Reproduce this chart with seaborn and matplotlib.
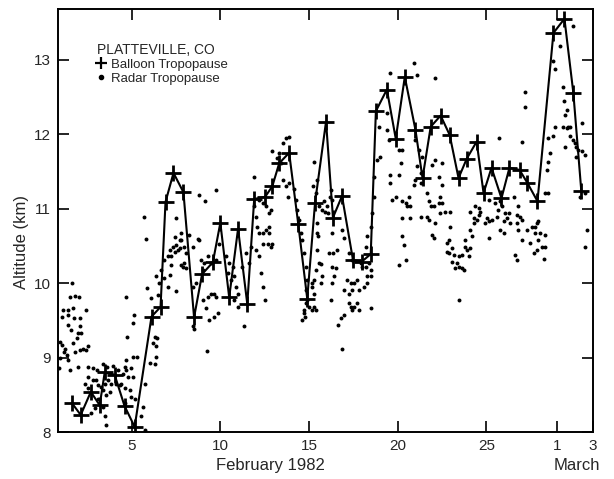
import matplotlib
matplotlib.use("Agg")
import matplotlib.pyplot as plt
from matplotlib.lines import Line2D
import seaborn as sns
import pandas as pd

# ---- data (day of Feb 1982; Mar 1 = 29, Mar 3 = 31) ----
balloon_day = [1.63, 2.13, 2.70, 3.20, 3.48, 4.04, 4.60, 5.17, 6.12, 6.63, 6.91, 7.36, 7.92,
               8.52, 8.97, 9.58, 10.00, 10.50, 11.00, 11.52, 11.91, 12.53, 12.93, 13.32, 13.88,
               14.39, 14.90, 15.34, 15.96, 16.35, 16.86, 17.48, 17.98, 18.48, 18.77, 19.39,
               19.89, 20.40, 21.00, 21.40, 21.86, 22.42, 22.93, 23.43, 23.89, 24.45, 24.84,
               25.29, 25.85, 26.30, 26.87, 27.30, 27.88, 28.78, 29.40, 29.90, 30.35]
balloon_alt = [8.39, 8.23, 8.54, 8.36, 8.80, 8.77, 8.35, 8.07, 9.55, 9.68, 11.09, 11.48, 11.22,
               9.54, 10.12, 10.28, 10.81, 9.81, 10.73, 9.72, 11.13, 11.16, 11.30, 11.61, 11.75,
               10.80, 9.79, 11.08, 12.17, 10.88, 11.17, 10.31, 10.29, 10.39, 12.31, 12.60,
               11.94, 12.77, 12.06, 11.41, 12.10, 12.25, 11.99, 11.41, 11.67, 11.90, 11.21,
               11.55, 11.14, 11.55, 11.52, 11.35, 11.10, 13.36, 13.55, 12.56, 11.24]

radar_day = [
    1.61, 1.51, 1.79, 2.02, 1.14, 1.39, 1.70, 2.40, 1.05, 1.39, 1.75, 2.08, 1.42, 1.57, 2.08,
    1.98, 2.17, 1.92, 0.95, 1.05, 1.23, 1.70, 2.26, 2.54, 2.41, 1.79, 2.08, 1.19, 1.33, 1.42,
    0.95, 0.90, 1.52, 1.98,
    2.54, 2.82, 3.07, 3.39, 3.63, 3.95, 4.23, 4.70, 5.07, 5.32, 4.61, 4.70, 4.94, 4.51, 4.79,
    5.07, 2.54, 2.82, 3.01, 2.36, 2.54, 3.11, 3.30, 3.48, 3.67, 3.86, 4.14, 4.42, 3.39, 3.58,
    3.76, 3.11, 3.39, 2.92, 4.33, 4.61, 4.89, 4.98, 5.17, 4.61, 3.48, 3.58, 5.64, 5.55, 5.73,
    2.73,
    5.13, 5.07, 4.70, 4.76, 5.69, 5.83, 5.88, 6.11, 6.29, 6.20, 6.39, 6.44, 6.01, 6.29, 6.39,
    5.73, 6.39, 6.57, 6.63, 6.48, 6.85, 7.04, 7.23, 7.42, 7.60, 7.14, 7.32, 7.51, 7.75, 7.42,
    7.70, 6.85, 7.04, 7.14, 7.51, 7.23, 7.79, 7.88, 7.51, 7.79, 8.82, 9.14, 9.76,
    7.79, 7.98, 8.07, 7.98, 8.07, 8.82, 8.92, 9.10, 9.01, 9.29, 9.48, 9.76, 8.45, 8.64, 9.01,
    9.29, 9.48, 9.67, 9.76, 9.19, 9.38, 9.67, 9.85, 8.45, 8.54, 9.23, 8.73, 8.26, 8.44,
    9.95, 10.32, 10.51, 10.69, 10.41, 10.60, 10.79, 10.88, 10.97, 10.79, 10.97, 11.35, 11.25,
    11.63, 11.45, 11.73, 11.91, 11.91, 12.00, 12.09, 12.19, 12.00, 12.19, 12.28, 12.38, 12.53,
    12.38, 12.57, 12.76, 12.38, 12.66, 12.85, 12.76, 12.94, 12.19, 12.38, 12.57, 12.76, 12.85,
    13.32, 13.51, 13.70, 13.88, 12.94, 13.22, 13.41, 13.51, 13.70, 13.88, 13.79, 14.16, 14.26,
    14.35, 14.44, 14.54, 14.63, 14.72, 14.81, 14.91, 14.81, 14.91, 14.72, 14.78, 14.63, 15.19,
    15.29, 15.38, 15.29, 15.38, 15.47, 15.57,
    15.23, 15.47, 15.57, 15.85, 15.72, 15.91, 15.47, 15.53, 15.47, 15.38, 15.29, 15.19, 15.68,
    15.75, 15.66, 15.29, 15.19, 14.81, 14.72, 15.00, 16.23, 16.17, 16.31, 16.03, 16.09, 16.31,
    16.13, 16.37, 16.60, 16.27, 16.50, 16.41, 16.31, 16.23, 16.88, 16.97, 17.25, 17.44,
    17.16, 17.35, 17.54, 17.72, 16.97, 17.25, 17.44, 17.82, 18.10, 18.28, 17.25, 17.35, 17.44,
    17.54, 17.72, 17.82, 16.97, 16.79, 16.65, 16.88, 17.91, 18.00, 18.19, 18.38, 18.47, 18.28,
    18.47, 18.47, 18.19, 18.28, 18.47, 18.56, 18.66, 18.66, 18.84, 19.03,
    18.94, 19.41, 19.41, 19.50, 19.59, 20.06, 19.59, 19.88, 19.69, 20.25, 20.44, 20.06, 20.25,
    20.16, 19.59, 20.91, 21.10, 22.12, 20.25, 20.44, 20.53, 20.72, 20.25, 20.72, 20.63, 21.00,
    21.19, 21.10, 21.29, 21.38, 21.00, 20.91, 21.29, 21.29, 21.66, 21.75, 22.12, 21.94, 22.03,
    21.66, 21.75, 21.85, 22.03, 22.31, 22.40, 22.12, 21.94, 22.31, 22.50, 22.69, 20.35, 22.78,
    22.78, 20.06,
    25.69, 26.99, 27.18, 27.15, 22.50, 22.50, 22.41, 22.97, 22.97, 22.88, 23.07, 23.16, 22.88,
    23.07, 23.35, 23.44, 23.63, 23.72, 23.25, 23.44, 23.63, 23.81, 23.91, 24.09, 24.00, 23.81,
    24.09, 24.18, 24.28, 24.46, 24.09, 23.44, 24.37, 24.56, 24.65, 24.56, 24.28, 25.12, 25.03,
    24.94, 25.12, 25.30, 25.58, 25.67, 25.48, 25.76, 25.86, 25.76, 25.12, 25.97, 26.06, 26.15,
    26.25, 25.97, 26.34, 26.53, 26.81, 26.72, 26.90, 26.72, 27.00, 26.81, 27.28, 27.56, 27.75,
    27.84, 27.93, 27.75, 28.03, 28.31, 27.93, 28.12, 27.84, 28.31, 27.66, 28.22, 27.47, 27.00,
    26.62, 26.72,
    28.31, 28.50, 28.40, 28.50, 28.59, 28.78, 28.87, 28.50, 28.78, 28.87, 29.15, 29.90, 29.34,
    29.40, 29.52, 29.43, 29.62, 29.34, 29.52, 29.71, 29.43, 29.71, 29.90, 29.99, 30.08, 30.18,
    30.37, 30.56, 30.08, 30.37, 30.56, 30.65, 30.56, 30.27]
radar_alt = [
    10.00, 9.82, 9.83, 9.82, 9.64, 9.64, 9.67, 9.64, 9.55, 9.57, 9.53, 9.53, 9.44, 9.37, 9.42,
    9.33, 9.33, 9.26, 9.21, 9.17, 9.12, 9.19, 9.12, 9.15, 9.10, 9.08, 9.10, 9.08, 9.03, 8.97,
    8.99, 8.86, 8.83, 8.88,
    8.88, 8.86, 8.83, 8.92, 8.88, 8.89, 8.83, 8.97, 9.01, 9.01, 8.88, 8.83, 8.86, 8.78, 8.74,
    8.74, 8.74, 8.70, 8.70, 8.65, 8.59, 8.63, 8.61, 8.65, 8.70, 8.65, 8.65, 8.65, 8.56, 8.50,
    8.54, 8.45, 8.34, 8.32, 8.63, 8.59, 8.56, 8.47, 8.45, 8.39, 8.21, 8.09, 8.34, 8.21, 8.03,
    8.25,
    9.57, 9.46, 9.82, 9.28, 10.89, 10.59, 9.94, 9.80, 9.27, 9.19, 9.15, 9.26, 8.93, 8.92, 9.01,
    8.65, 10.09, 10.00, 10.18, 9.84, 10.31, 10.36, 10.37, 10.42, 10.45, 10.45, 10.49, 10.51,
    10.47, 10.62, 10.58, 10.07, 9.95, 10.11, 9.90, 10.24, 10.24, 10.22, 10.87, 10.67, 11.19,
    11.10, 11.25,
    10.58, 10.49, 10.40, 10.27, 10.20, 10.58, 10.31, 10.27, 10.18, 10.36, 10.27, 10.31, 9.95,
    10.00, 9.77, 9.82, 9.86, 9.86, 9.82, 9.66, 9.51, 9.55, 9.60, 9.42, 9.39, 9.09, 10.59,
    10.65, 10.49,
    10.53, 10.36, 10.27, 10.22, 10.13, 10.04, 10.09, 9.95, 9.86, 9.77, 9.68, 9.42, 10.22, 10.27,
    10.40, 10.49, 11.43, 11.03, 10.89, 10.76, 10.67, 10.45, 10.36, 10.13, 9.95, 9.77, 10.67,
    10.72, 10.67, 10.53, 10.53, 10.49, 10.76, 10.53, 11.12, 11.07, 11.03, 10.94, 10.98,
    11.75, 11.88, 11.95, 11.96, 11.77, 11.68, 11.61, 11.39, 11.30, 11.34, 11.16, 11.27, 11.12,
    10.98, 10.85, 10.67, 10.58, 10.40, 10.22, 10.04, 9.91, 9.77, 9.64, 9.55, 9.51, 9.95, 9.68,
    9.64, 11.63, 11.21, 10.67, 10.27,
    11.30, 11.39, 11.03, 11.10, 10.98, 10.96, 10.81, 10.63, 10.45, 10.18, 10.04, 10.00, 10.26,
    10.09, 10.00, 9.86, 9.64, 9.73, 9.60, 9.68, 11.25, 11.16, 11.12, 11.03, 10.94, 10.67, 10.40,
    10.40, 10.45, 10.22, 10.20, 10.09, 10.00, 9.77, 10.72, 10.60, 10.40, 10.31,
    10.04, 10.00, 10.00, 10.04, 9.91, 9.86, 9.91, 9.91, 9.95, 10.00, 9.73, 9.68, 9.64, 9.68,
    9.73, 9.64, 9.57, 9.53, 9.44, 9.11, 10.27, 10.22, 10.22, 10.27, 10.18, 10.09, 10.09, 9.66,
    10.49, 10.63, 10.76, 10.94, 11.16, 11.43, 11.66, 11.70,
    12.10, 12.28, 12.06, 11.92, 11.45, 11.45, 11.34, 11.16, 11.12, 10.63, 10.31, 11.79, 11.79,
    11.61, 12.82, 12.95, 12.80, 12.75, 11.10, 11.07, 11.03, 11.03, 10.87, 10.87, 11.16, 11.92,
    11.79, 11.57, 11.48, 11.70, 11.39, 11.32, 11.34, 10.89, 10.89, 10.85, 10.81, 10.65, 10.60,
    11.21, 11.10, 11.03, 11.03, 11.07, 11.16, 11.66, 11.59, 11.43, 11.32, 10.96, 10.51, 10.42,
    10.54, 10.24,
    11.95, 11.90, 12.57, 12.37, 11.61, 11.07, 10.94, 10.96, 10.76, 10.58, 10.47, 10.38, 10.40,
    10.29, 10.27, 10.22, 10.20, 10.18, 10.20, 10.36, 10.38, 10.49, 10.45, 10.47, 10.36, 10.58,
    10.72, 10.63, 10.81, 10.85, 10.96, 9.77, 11.03, 11.01, 10.96, 10.92, 10.87, 11.12, 10.87,
    10.81, 10.83, 10.85, 10.89, 10.98, 11.07, 11.10, 11.03, 10.72, 10.60, 10.67, 10.94, 10.87,
    10.94, 10.83, 10.81, 11.16, 11.03, 10.92, 10.89, 10.81, 10.85, 10.72, 10.72, 10.76, 10.76,
    10.81, 10.83, 10.67, 10.67, 10.65, 10.58, 10.49, 10.45, 10.49, 10.40, 10.33, 10.54, 10.58,
    10.38, 10.31,
    11.21, 11.21, 11.52, 11.63, 11.75, 11.97, 12.10, 11.95, 12.98, 12.87, 13.18, 13.45, 12.64,
    12.44, 12.33, 12.26, 12.10, 12.10, 12.08, 12.10, 11.83, 11.97, 11.92, 11.88, 11.83, 11.79,
    11.77, 11.72, 11.70, 12.15, 11.21, 10.72, 10.49, 11.16]

x_tick_pos = [5, 10, 15, 20, 25, 29, 31]
x_tick_labels = ["5", "10", "15", "20", "25", "1", "3"]
y_ticks = [8, 9, 10, 11, 12, 13]

balloon = pd.DataFrame({"day": balloon_day, "alt": balloon_alt})
radar = pd.DataFrame({"day": radar_day, "alt": radar_alt})

sns.set_theme(style="ticks")
plt.rcParams["font.family"] = ["Liberation Sans", "DejaVu Sans"]

fig = plt.figure(figsize=(6.14, 4.79), dpi=100)
ax = fig.add_axes([0.0945, 0.098, 0.871, 0.883])

sns.scatterplot(data=radar, x="day", y="alt", ax=ax, color="black", s=8,
                linewidth=0, legend=False, zorder=2)
sns.lineplot(data=balloon, x="day", y="alt", ax=ax, color="black", linewidth=1.5,
             marker="+", markersize=11, markeredgewidth=2.0, markeredgecolor="black",
             markerfacecolor="black", legend=False, zorder=3, sort=False, estimator=None)

ax.set_xlim(0.85, 31)
ax.set_ylim(8, 13.68)
ax.set_xticks(x_tick_pos)
ax.set_xticklabels(x_tick_labels, fontsize=11)
ax.set_yticks(y_ticks)
ax.set_yticklabels([str(v) for v in y_ticks], fontsize=11)
ax.tick_params(direction="in", length=8, width=1.2, color="black",
               top=True, right=True, bottom=True, left=True, pad=5)
for s in ax.spines.values():
    s.set_visible(True)
    s.set_color("black")
    s.set_linewidth(1.4)

ax.set_xlabel("")
ax.set_ylabel("Altitude (km)", fontsize=12)
ax.yaxis.set_label_coords(-0.055, 0.45)
ax.text(12.8, -0.08, "February 1982", transform=ax.get_xaxis_transform(),
        ha="center", va="center", fontsize=12)
ax.text(30.1, -0.08, "March", transform=ax.get_xaxis_transform(),
        ha="center", va="center", fontsize=12)

handles = [Line2D([], [], color="black", marker="+", linestyle="none",
                  markersize=8, markeredgewidth=1.6),
           Line2D([], [], color="black", marker="o", linestyle="none", markersize=3)]
leg = ax.legend(handles, ["Balloon Tropopause", "Radar Tropopause"],
                title="PLATTEVILLE, CO", loc="upper left", bbox_to_anchor=(0.072, 0.92),
                frameon=False, fontsize=9.5, title_fontsize=10, handlelength=0.7,
                handletextpad=0.4, labelspacing=0.12, borderpad=0, borderaxespad=0,
                alignment="left")

fig.savefig("out.png", dpi=100)
